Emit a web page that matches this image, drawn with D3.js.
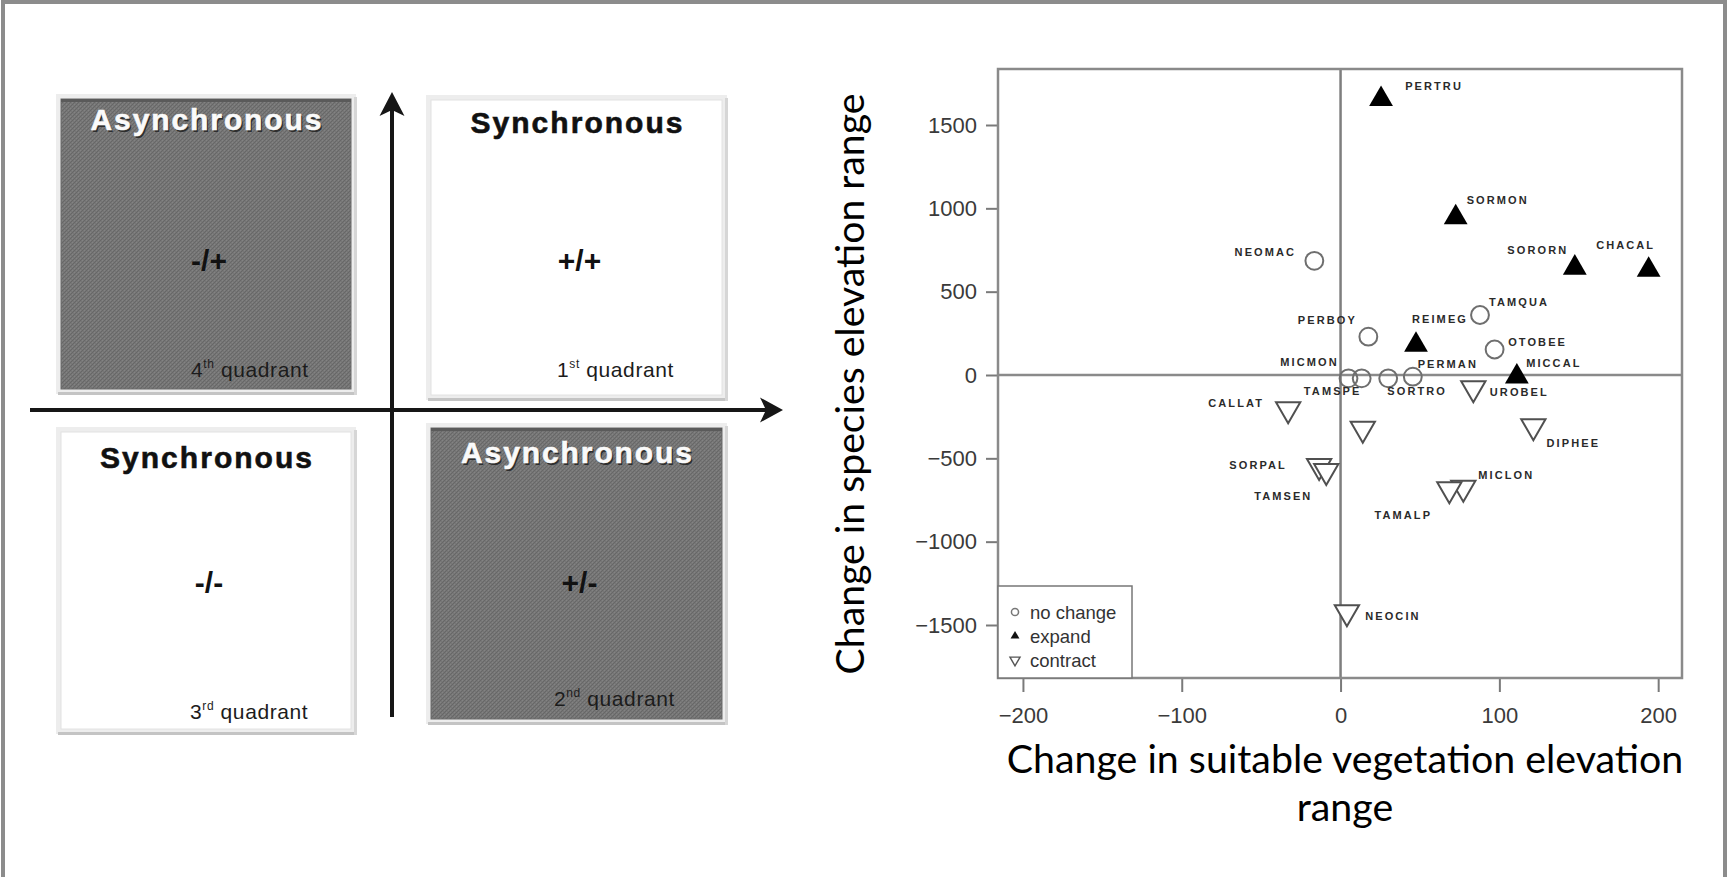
<!DOCTYPE html>
<html>
<head>
<meta charset="utf-8">
<script src="https://cdn.jsdelivr.net/npm/d3@7"></script>
<style>
  html, body { margin: 0; padding: 0; background: #fff; overflow: hidden; }
  svg { display: block; }
</style>
</head>
<body>
<svg id="fig" width="1729" height="877"></svg>
<script>
// ---- Species range shifts: change in suitable vegetation elevation range (x)
// ---- versus change in species elevation range (y), both in metres.
const species    = ["PERTRU","SORMON","NEOMAC","SORORN","CHACAL","TAMQUA","PERBOY","REIMEG",
                    "OTOBEE","MICCAL","MICMON","TAMSPE","SORTRO","PERMAN","UROBEL","CALLAT",
                    "","DIPHEE","SORPAL","TAMSEN","MICLON","TAMALP","NEOCIN"];
const vegChange  = [25.5, 72.5, -16.5, 147.5, 194, 87.8, 17.5, 47.5,
                    97, 111, 5, 13.3, 30, 45.5, 83.6, -33,
                    14, 121.4, -13.5, -9, 77.3, 68.5, 4];
const elevChange = [1655, 945, 685, 643, 630, 360, 230, 180,
                    153, -10, -20, -20, -20, -10, -80, -205,
                    -323, -307, -546, -576, -677, -686, -1423];
const status     = ["expand","expand","no change","expand","expand","no change","no change","expand",
                    "no change","expand","no change","no change","no change","no change","contract","contract",
                    "contract","contract","contract","contract","contract","contract","contract"];

const xTicks = [-200, -100, 0, 100, 200];
const yTicks = [-1500, -1000, -500, 0, 500, 1000, 1500];
const legendLabels = ["no change", "expand", "contract"];
const xTitleLines = ["Change in suitable vegetation elevation", "range"];
const yTitle = "Change in species elevation range";

// ---- Conceptual quadrant diagram (reading order: top-left, top-right, bottom-left, bottom-right)
const quadTitles = ["Asynchronous", "Synchronous", "Synchronous", "Asynchronous"];
const quadSigns  = ["-/+", "+/+", "-/-", "+/-"];
const quadNumber = ["4", "1", "3", "2"];
const quadSuffix = ["th", "st", "rd", "nd"];
const quadShaded = [true, false, false, true];

// label placement around each point (px offsets of the label centre)
const labelNudge = [[53,-13],[42,-18],[-49,-9],[-37,-18],[-23,-25],[39,-13],[-41,-17],[24,-26],
                    [43,-8],[37,-14],[-39,-16],[-29,13],[29,13],[35,-13],[46,4],[-52,-6],
                    [0,0],[40,17],[-61,-1],[-43,25],[43,-13],[-46,26],[46,4]];

const svg = d3.select("#fig");
const SANS = "'Liberation Sans', Arial, sans-serif";
const TITLE_FONT = "Lato, 'Open Sans', sans-serif";

// dithered grey fill for the shaded quadrant cards
const defs = svg.append("defs");
const pat = defs.append("pattern").attr("id", "dither")
  .attr("width", 4).attr("height", 4).attr("patternUnits", "userSpaceOnUse");
pat.append("rect").attr("width", 4).attr("height", 4).attr("fill", "#767676");
[[0,0],[2,2],[1,3],[3,1]].forEach(([a,b]) =>
  pat.append("rect").attr("x", a).attr("y", b).attr("width", 1).attr("height", 1).attr("fill", "#676767"));
[[2,0],[0,2]].forEach(([a,b]) =>
  pat.append("rect").attr("x", a).attr("y", b).attr("width", 1).attr("height", 1).attr("fill", "#838383"));

// page frame
svg.append("rect").attr("x", 3).attr("y", 2).attr("width", 1722).attr("height", 1000)
  .attr("fill", "none").attr("stroke", "#8c8c8c").attr("stroke-width", 4);

// ================= Left: quadrant cards =================
const cards = [
  {x: 61,  y: 99,  w: 290, h: 290},
  {x: 431, y: 100, w: 291, h: 295},
  {x: 61,  y: 432, w: 290, h: 297},
  {x: 431, y: 428, w: 291, h: 291}
];
const titleWidth = {"Asynchronous": 231, "Synchronous": 212};
const titleBase = [130, 133, 468, 463];
const signBase  = [271, 271, 593, 593];
const ordStart  = [191, 557, 190, 554];
const ordBase   = [377, 377, 719, 706];

const left = svg.append("g");
cards.forEach((c, i) => {
  const g = left.append("g");
  // soft frame + drop shadow
  g.append("rect").attr("x", c.x - 5).attr("y", c.y - 5).attr("width", c.w + 10).attr("height", c.h + 10)
    .attr("fill", "#ededed");
  g.append("rect").attr("x", c.x - 3).attr("y", c.y + c.h + 3).attr("width", c.w + 8).attr("height", 3)
    .attr("fill", "#c4c4c4");
  g.append("rect").attr("x", c.x + c.w + 3).attr("y", c.y - 2).attr("width", 3).attr("height", c.h + 8)
    .attr("fill", "#d6d6d6");
  g.append("rect").attr("x", c.x).attr("y", c.y).attr("width", c.w).attr("height", c.h)
    .attr("fill", quadShaded[i] ? "url(#dither)" : "#fff")
    .attr("stroke", quadShaded[i] ? "#6a6a6a" : "#e2e2e2").attr("stroke-width", 1);
  if (quadShaded[i]) {
    g.append("rect").attr("x", c.x).attr("y", c.y).attr("width", c.w).attr("height", 3).attr("fill", "#5a5a5a");
  }

  const cx = c.x + c.w / 2;
  const t = quadTitles[i];
  if (quadShaded[i]) {
    g.append("text").attr("x", cx + 1.5).attr("y", titleBase[i] + 1.5)
      .attr("text-anchor", "middle").attr("font-family", SANS).attr("font-weight", "bold")
      .attr("font-size", 30).attr("textLength", titleWidth[t]).attr("lengthAdjust", "spacing")
      .attr("fill", "#2e2e2e").text(t);
  }
  g.append("text").attr("x", cx).attr("y", titleBase[i])
    .attr("text-anchor", "middle").attr("font-family", SANS).attr("font-weight", "bold")
    .attr("font-size", 30).attr("textLength", titleWidth[t]).attr("lengthAdjust", "spacing")
    .attr("fill", quadShaded[i] ? "#fafafa" : "#111")
    .attr("stroke", quadShaded[i] ? "#fafafa" : "#111").attr("stroke-width", 0.6).text(t);

  g.append("text").attr("x", cx + 3).attr("y", signBase[i])
    .attr("text-anchor", "middle").attr("font-family", SANS).attr("font-weight", "bold")
    .attr("font-size", 30).attr("fill", "#111").text(quadSigns[i]);

  const ord = g.append("text").attr("x", ordStart[i]).attr("y", ordBase[i])
    .attr("font-family", SANS).attr("font-size", 21).attr("letter-spacing", 0.6).attr("fill", "#1c1c1c");
  ord.append("tspan").text(quadNumber[i]);
  ord.append("tspan").attr("font-size", 12).attr("dy", -9).text(quadSuffix[i]);
  ord.append("tspan").attr("dy", 9).text(" quadrant");
});

// axes arrows of the diagram
left.append("line").attr("x1", 30).attr("y1", 410).attr("x2", 770).attr("y2", 410)
  .attr("stroke", "#161616").attr("stroke-width", 4);
left.append("path").attr("d", "M783,410 L760,397.5 L766,410 L760,422.5 Z").attr("fill", "#161616");
left.append("line").attr("x1", 392).attr("y1", 717).attr("x2", 392).attr("y2", 104)
  .attr("stroke", "#161616").attr("stroke-width", 4);
left.append("path").attr("d", "M392,92 L379.5,116 L392,110 L404.5,116 Z").attr("fill", "#161616");

// ================= Right: scatter plot =================
const x = d3.scaleLinear().domain([-215.7, 215]).range([998, 1682]);
const y = d3.scaleLinear().domain([-1818, 1836]).range([678, 69]);
const fmt = d => d < 0 ? "\u2212" + Math.abs(d) : String(d);

const plot = svg.append("g");

const yAxis = plot.append("g").attr("transform", "translate(998,0)")
  .call(d3.axisLeft(y).tickValues(yTicks).tickSize(12).tickPadding(9).tickFormat(fmt));
const xAxis = plot.append("g").attr("transform", "translate(0,678)")
  .call(d3.axisBottom(x).tickValues(xTicks).tickSize(14).tickPadding(15).tickFormat(fmt));
[yAxis, xAxis].forEach(a => {
  a.select(".domain").remove();
  a.selectAll(".tick line").attr("stroke", "#7a7a7a").attr("stroke-width", 2);
  a.selectAll(".tick text").attr("font-family", SANS).attr("font-size", 22).attr("fill", "#3a3a3a");
});

// reference lines through zero
plot.append("line").attr("x1", x.range()[0]).attr("x2", x.range()[1]).attr("y1", y(0)).attr("y2", y(0))
  .attr("stroke", "#8a8a8a").attr("stroke-width", 2.5);
plot.append("line").attr("x1", x(0)).attr("x2", x(0)).attr("y1", y.range()[0]).attr("y2", y.range()[1])
  .attr("stroke", "#7e7e7e").attr("stroke-width", 2.5);

// plot frame
plot.append("rect").attr("x", x.range()[0]).attr("y", y.range()[1])
  .attr("width", x.range()[1] - x.range()[0]).attr("height", y.range()[0] - y.range()[1])
  .attr("fill", "none").attr("stroke", "#8a8a8a").attr("stroke-width", 2.5);

// marker styles per status
const markerFor = s => {
  if (s === "expand")   return {path: d3.symbol().type(d3.symbolTriangle).size(245)(), rot: 0,
                                fill: "#000", stroke: "none", sw: 0};
  if (s === "contract") return {path: d3.symbol().type(d3.symbolTriangle).size(255)(), rot: 180,
                                fill: "#fff", stroke: "#505050", sw: 2};
  return {path: d3.symbol().type(d3.symbolCircle).size(250)(), rot: 0,
          fill: "none", stroke: "#6e6e6e", sw: 2};
};

const pts = d3.range(species.length).map(i => ({
  name: species[i], vx: vegChange[i], vy: elevChange[i], s: status[i], nudge: labelNudge[i]
}));

plot.append("g").selectAll("path").data(pts).join("path")
  .attr("transform", d => `translate(${x(d.vx)},${y(d.vy)}) rotate(${markerFor(d.s).rot})`)
  .attr("d", d => markerFor(d.s).path)
  .attr("fill", d => markerFor(d.s).fill)
  .attr("stroke", d => markerFor(d.s).stroke)
  .attr("stroke-width", d => markerFor(d.s).sw);

plot.append("g").selectAll("text").data(pts.filter(d => d.name)).join("text")
  .attr("x", d => x(d.vx) + d.nudge[0])
  .attr("y", d => y(d.vy) + d.nudge[1])
  .attr("text-anchor", "middle").attr("dominant-baseline", "central")
  .attr("font-family", SANS).attr("font-weight", "bold").attr("font-size", 11)
  .attr("letter-spacing", 2.1).attr("fill", "#2a2a2a")
  .text(d => d.name);

// legend
const lg = plot.append("g");
lg.append("rect").attr("x", 998).attr("y", 586).attr("width", 134).attr("height", 92)
  .attr("fill", "#fff").attr("stroke", "#777").attr("stroke-width", 1.5);
const legendMarker = {
  "no change": {d: d3.symbol().type(d3.symbolCircle).size(40)(), rot: 0, fill: "none", stroke: "#777", sw: 1.5},
  "expand":    {d: d3.symbol().type(d3.symbolTriangle).size(34)(), rot: 0, fill: "#111", stroke: "none", sw: 0},
  "contract":  {d: d3.symbol().type(d3.symbolTriangle).size(44)(), rot: 180, fill: "none", stroke: "#555", sw: 1.4}
};
legendLabels.forEach((lab, i) => {
  const ly = 612 + i * 24;
  const m = legendMarker[lab];
  lg.append("path").attr("transform", `translate(1015,${ly}) rotate(${m.rot})`).attr("d", m.d)
    .attr("fill", m.fill).attr("stroke", m.stroke).attr("stroke-width", m.sw);
  lg.append("text").attr("x", 1030).attr("y", ly).attr("dominant-baseline", "central")
    .attr("font-family", SANS).attr("font-size", 18.5).attr("fill", "#333").text(lab);
});

// axis titles, sized to their measured widths
function fitText(sel, target) {
  const len = sel.node().getComputedTextLength();
  const fs = parseFloat(sel.attr("font-size"));
  sel.attr("font-size", (fs * target / len).toFixed(2));
}
const yt = plot.append("text").attr("transform", "translate(864,384) rotate(-90)")
  .attr("text-anchor", "middle").attr("font-family", TITLE_FONT).attr("font-size", 36)
  .attr("fill", "#000").text(yTitle);
fitText(yt, 581);
const xt1 = plot.append("text").attr("x", 1345).attr("y", 773).attr("text-anchor", "middle")
  .attr("font-family", TITLE_FONT).attr("font-size", 36).attr("fill", "#000").text(xTitleLines[0]);
fitText(xt1, 677);
plot.append("text").attr("x", 1345).attr("y", 821).attr("text-anchor", "middle")
  .attr("font-family", TITLE_FONT).attr("font-size", xt1.attr("font-size")).attr("fill", "#000")
  .text(xTitleLines[1]);
</script>
</body>
</html>
